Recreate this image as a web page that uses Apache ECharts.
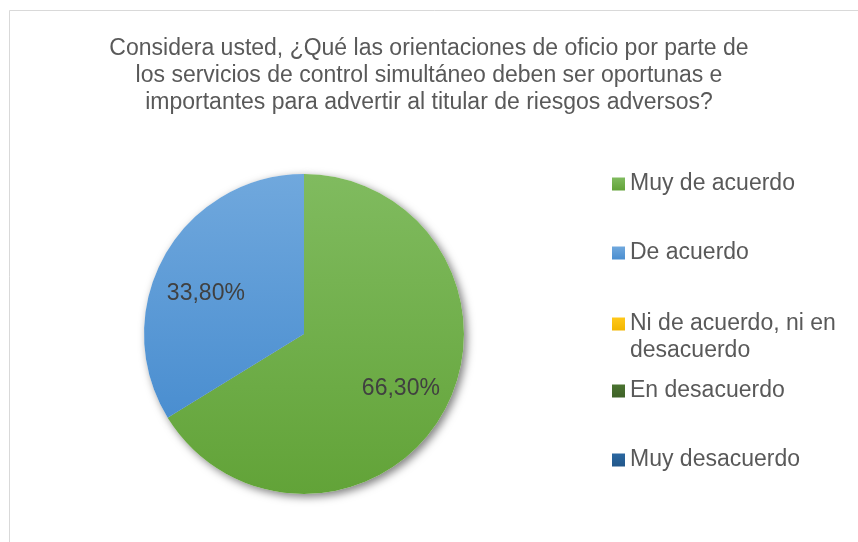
<!DOCTYPE html>
<html>
<head>
<meta charset="utf-8">
<script src="https://cdn.jsdelivr.net/npm/echarts@6/dist/echarts.min.js"></script>
<style>
html,body{margin:0;padding:0;background:#fff;}
#c{width:858px;height:542px;}
</style>
</head>
<body>
<div id="c"></div>
<script>
var titleText = 'Considera usted, ¿Qué las orientaciones de oficio por parte de\nlos servicios de control simultáneo deben ser oportunas e\nimportantes para advertir al titular de riesgos adversos?';
var categories = ['Muy de acuerdo', 'De acuerdo', 'Ni de acuerdo, ni en desacuerdo', 'En desacuerdo', 'Muy desacuerdo'];
var values = [66.3, 33.8, 0, 0, 0];
var legendLabels = ['Muy de acuerdo', 'De acuerdo', 'Ni de acuerdo, ni en\ndesacuerdo', 'En desacuerdo', 'Muy desacuerdo'];
var colorsTop = ['#80BB5F', '#70A8DD', '#FFC81A', '#4A7330', '#2A67A0'];
var colorsBottom = ['#62A338', '#4A8ED0', '#F2B600', '#3F6228', '#22578A'];

var FONT = '"Liberation Sans", Arial, sans-serif';

function grad(i) {
  return new echarts.graphic.LinearGradient(0, 0, 0, 1, [
    {offset: 0, color: colorsTop[i]},
    {offset: 1, color: colorsBottom[i]}
  ]);
}
function fmt(v) {
  return v === 0 ? '' : v.toFixed(2).replace('.', ',') + '%';
}

var pieData = categories.map(function (n, i) {
  return {name: n, value: values[i], itemStyle: {color: grad(i)}};
});
var shadowData = categories.map(function (n, i) {
  return {name: n, value: values[i]};
});
var labelData = categories.map(function (n, i) {
  return {name: n, value: values[i]};
});

var legendCenters = [184, 253, 324, 391, 460];
var legends = categories.map(function (n, i) {
  var twoLine = legendLabels[i].indexOf('\n') >= 0;
  return {
    data: [n],
    orient: 'vertical',
    left: 612,
    top: twoLine ? legendCenters[i] - 40.5 : legendCenters[i] - 13.5,
    padding: 0,
    itemWidth: 13,
    itemHeight: 13,
    icon: 'rect',
    selectedMode: false,
    formatter: function () { return twoLine ? '\n' + legendLabels[i] : legendLabels[i]; },
    textStyle: {
      fontFamily: FONT,
      fontSize: 23,
      lineHeight: 27,
      color: '#595959'
    }
  };
});

function labelSeries(name, idx, radius, startAngle) {
  return {
    type: 'pie',
    name: name,
    center: [304, 334],
    radius: radius,
    startAngle: startAngle,
    silent: true,
    z: 3,
    itemStyle: {color: 'rgba(0,0,0,0)', borderWidth: 0},
    emphasis: {disabled: true},
    labelLine: {show: false},
    label: {
      show: true,
      position: 'inside',
      fontFamily: FONT,
      fontSize: 23,
      color: '#404040',
      formatter: function (p) {
        if (p.dataIndex !== idx) return '';
        return fmt(p.value);
      }
    },
    data: labelData
  };
}

var chart = echarts.init(document.getElementById('c'), null, {renderer: 'canvas'});
chart.setOption({
  backgroundColor: '#ffffff',
  animation: false,
  title: {
    text: titleText,
    left: 'center',
    top: 35,
    padding: 0,
    textStyle: {
      fontFamily: FONT,
      fontSize: 23,
      lineHeight: 27,
      fontWeight: 'normal',
      color: '#595959'
    }
  },
  graphic: [{
    type: 'rect',
    silent: true,
    z: -10,
    shape: {x: 9.5, y: 10.5, width: 900, height: 600},
    style: {fill: 'none', stroke: '#D9D9D9', lineWidth: 1}
  }],
  legend: legends,
  series: [
    {
      type: 'pie',
      name: 'main',
      center: [304, 334],
      radius: [0, 160],
      startAngle: 90,
      z: 2,
      label: {show: false},
      labelLine: {show: false},
      itemStyle: {borderWidth: 0},
      emphasis: {disabled: true},
      data: pieData
    },
    {
      type: 'pie',
      name: 'shadow',
      center: [304, 334],
      radius: [0, 160],
      startAngle: 90,
      silent: true,
      z: 1,
      label: {show: false},
      labelLine: {show: false},
      itemStyle: {
        color: '#ffffff',
        borderWidth: 0,
        shadowBlur: 8,
        shadowOffsetX: 3,
        shadowOffsetY: 3,
        shadowColor: 'rgba(0,0,0,0.5)'
      },
      emphasis: {disabled: true},
      data: shadowData
    },
    labelSeries('labels1', 0, [56, 160], 90),
    labelSeries('labels2', 1, [46, 160], 97)
  ]
});
</script>
</body>
</html>
